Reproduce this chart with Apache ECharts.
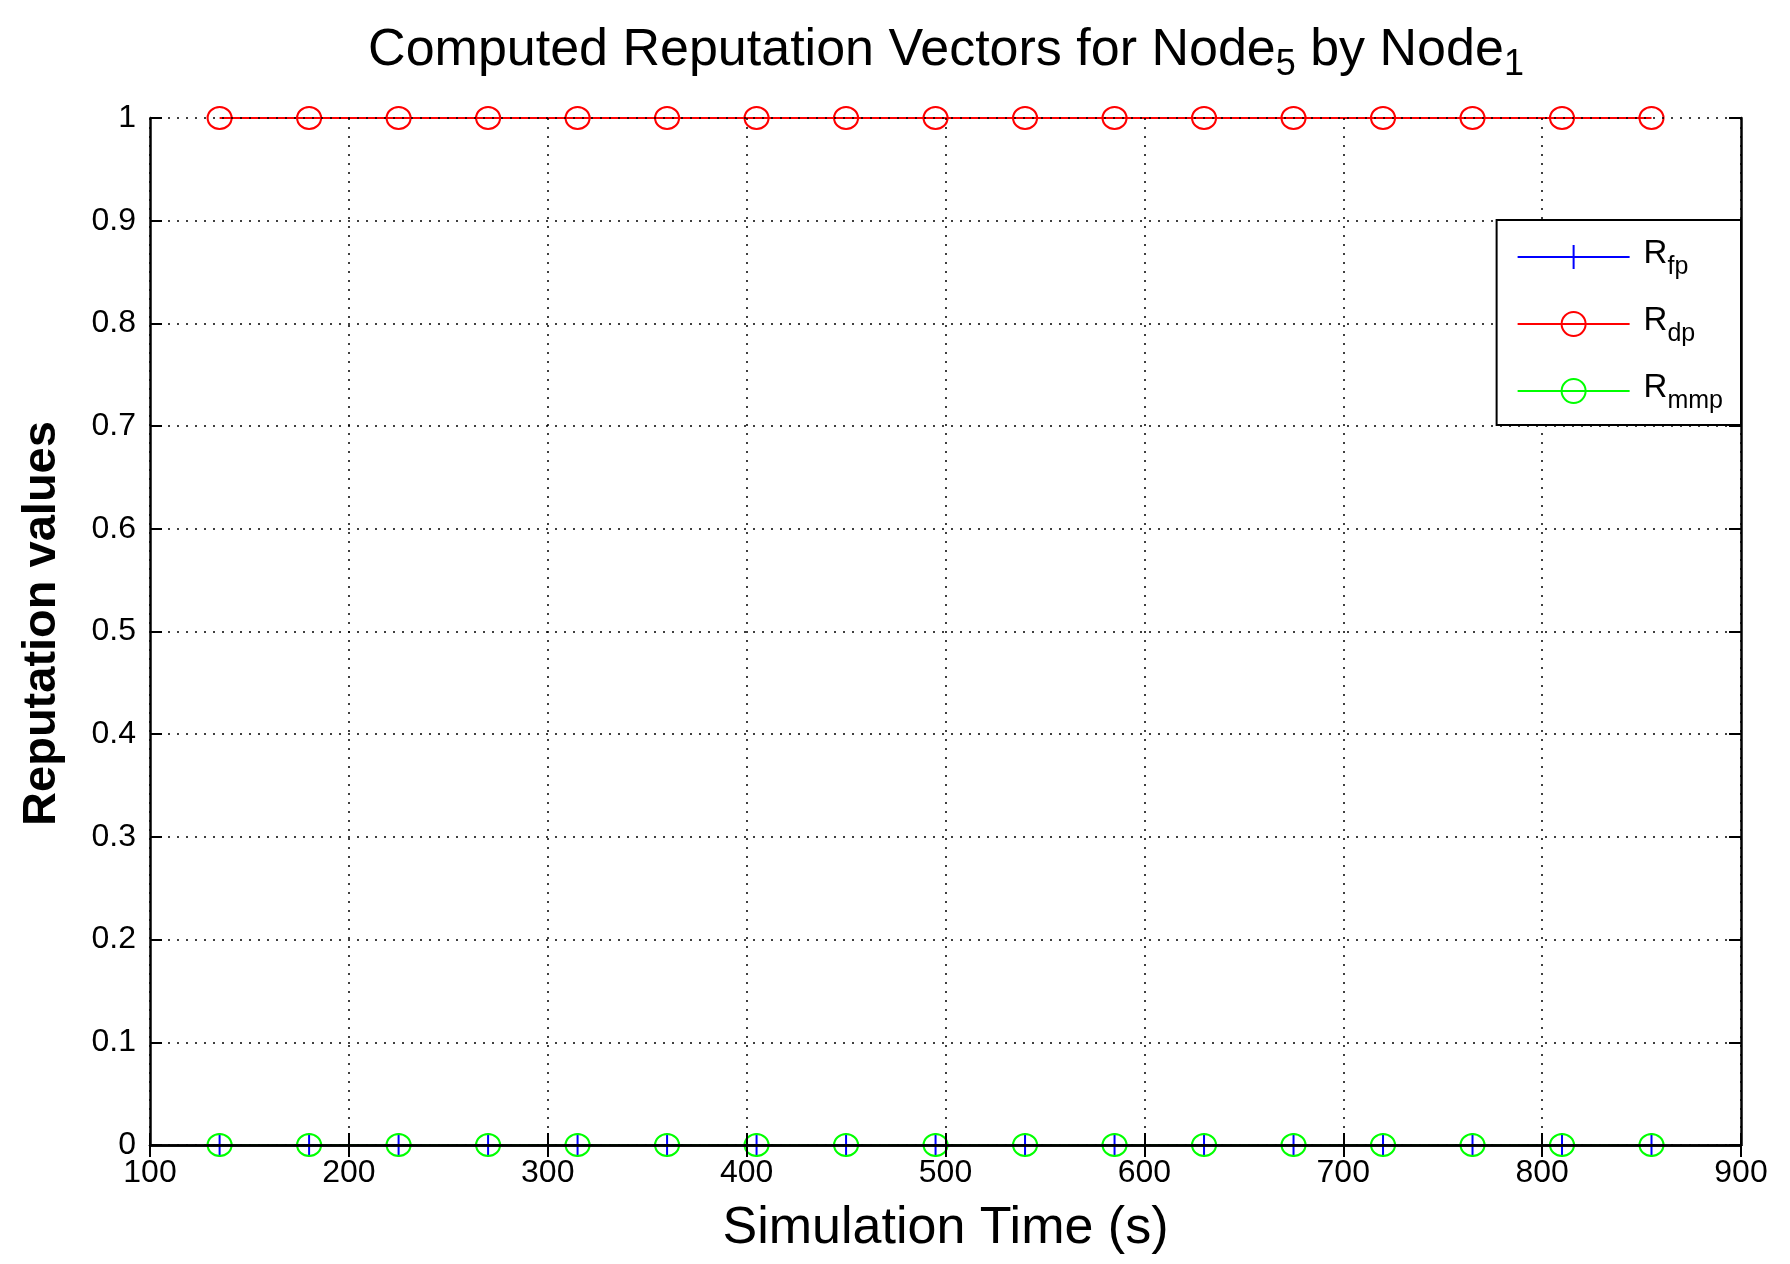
<!DOCTYPE html>
<html>
<head>
<meta charset="utf-8">
<script src="https://cdn.jsdelivr.net/npm/echarts@6/dist/echarts.min.js"></script>
<style>
html,body{margin:0;padding:0;background:#fff;}
#chart{width:1790px;height:1264px;}
</style>
</head>
<body>
<div id="chart"></div>
<script>
const times = [135, 180, 225, 270, 315, 360, 405, 450, 495, 540, 585, 630, 675, 720, 765, 810, 855];
const rFp  = [0, 0, 0, 0, 0, 0, 0, 0, 0, 0, 0, 0, 0, 0, 0, 0, 0];
const rDp  = [1, 1, 1, 1, 1, 1, 1, 1, 1, 1, 1, 1, 1, 1, 1, 1, 1];
const rMmp = [0, 0, 0, 0, 0, 0, 0, 0, 0, 0, 0, 0, 0, 0, 0, 0, 0];
const xTicks = [100, 200, 300, 400, 500, 600, 700, 800, 900];
const yTicks = [0, 0.1, 0.2, 0.3, 0.4, 0.5, 0.6, 0.7, 0.8, 0.9, 1];
const seriesNames = ['fp', 'dp', 'mmp'];

const pairs = vals => times.map((t, i) => [t, vals[i]]);
const mainFont = "'Liberation Sans', Arial, sans-serif";

const chart = echarts.init(document.getElementById('chart'));
const plusPath = 'path://M0,-10 L0,10 M-10,0 L10,0';

const axisCommon = {
  axisLine: {show: true, lineStyle: {color: '#000', width: 2.5}},
  axisTick: {show: true, inside: true, length: 12, lineStyle: {color: '#000', width: 2}},
  splitLine: {show: false},
  z: 5
};
const gridLine = {show: true, lineStyle: {color: '#000', width: 1.5, type: [2, 7]}};

chart.setOption({
  backgroundColor: '#fff',
  animation: false,
  title: {
    text: '{a|Computed Reputation Vectors for Node}{s|5}{a| by Node}{s|1}',
    left: 941,
    textAlign: 'center',
    top: 20,
    textStyle: {
      rich: {
        a: {fontFamily: mainFont, fontSize: 52, fontWeight: 'normal', color: '#000', lineHeight: 64, verticalAlign: 'top'},
        s: {fontFamily: mainFont, fontSize: 36, fontWeight: 'normal', color: '#000', lineHeight: 64, verticalAlign: 'top', padding: [22, 0, 0, 0]}
      }
    }
  },
  grid: {left: 150, right: 49, top: 118, bottom: 119, containLabel: false},
  legend: {
    orient: 'vertical',
    right: 49,
    top: 220,
    z: 10,
    padding: [17, 18, 11, 20],
    itemWidth: 112,
    itemHeight: 30,
    itemGap: 24,
    borderColor: '#000',
    borderWidth: 2,
    backgroundColor: '#fff',
    formatter: n => '{r|R}{s|' + n + '}',
    textStyle: {
      rich: {
        r: {fontFamily: mainFont, fontSize: 33, color: '#000', lineHeight: 40, verticalAlign: 'top', padding: [0, 0, 0, 9]},
        s: {fontFamily: mainFont, fontSize: 25, color: '#000', lineHeight: 40, verticalAlign: 'top', padding: [18, 0, 0, 0]}
      }
    },
    data: seriesNames
  },
  xAxis: [{
    type: 'value', min: 100, max: 900, interval: 100, position: 'bottom',
    name: 'Simulation Time (s)', nameLocation: 'middle', nameGap: 58,
    nameTextStyle: {fontFamily: mainFont, fontSize: 52, color: '#000'},
    axisLabel: {color: '#000', fontFamily: mainFont, fontSize: 32, margin: 12},
    ...axisCommon,
    splitLine: gridLine
  }, {
    type: 'value', min: 100, max: 900, interval: 100, position: 'top',
    axisLabel: {show: false}, ...axisCommon
  }],
  yAxis: [{
    type: 'value', min: 0, max: 1, interval: 0.1, position: 'left',
    name: 'Reputation values', nameLocation: 'middle', nameGap: 84, nameRotate: 90,
    nameTextStyle: {fontFamily: mainFont, fontSize: 47, fontWeight: 'bold', color: '#000', padding: [0, 0, 0, 16]},
    axisLabel: {color: '#000', fontFamily: mainFont, fontSize: 32, margin: 14,
      formatter: v => String(Math.round(v * 10) / 10)},
    ...axisCommon,
    splitLine: gridLine
  }, {
    type: 'value', min: 0, max: 1, interval: 0.1, position: 'right',
    axisLabel: {show: false}, ...axisCommon
  }],
  series: [{
    name: 'fp', type: 'line', data: pairs(rFp), clip: false, z: 2,
    symbol: plusPath, symbolSize: [24, 24],
    lineStyle: {color: '#0000ff', width: 2},
    itemStyle: {color: '#0000ff', borderColor: '#0000ff', borderWidth: 2}
  }, {
    name: 'dp', type: 'line', data: pairs(rDp), clip: false, z: 2,
    symbol: 'circle', symbolSize: [24, 22],
    lineStyle: {color: '#ff0000', width: 2},
    itemStyle: {color: 'rgba(0,0,0,0)', borderColor: '#ff0000', borderWidth: 2}
  }, {
    name: 'mmp', type: 'line', data: pairs(rMmp), clip: false, z: 2,
    symbol: 'circle', symbolSize: [24, 22],
    lineStyle: {color: '#00ff00', width: 2},
    itemStyle: {color: 'rgba(0,0,0,0)', borderColor: '#00ff00', borderWidth: 2}
  }]
});
</script>
</body>
</html>
